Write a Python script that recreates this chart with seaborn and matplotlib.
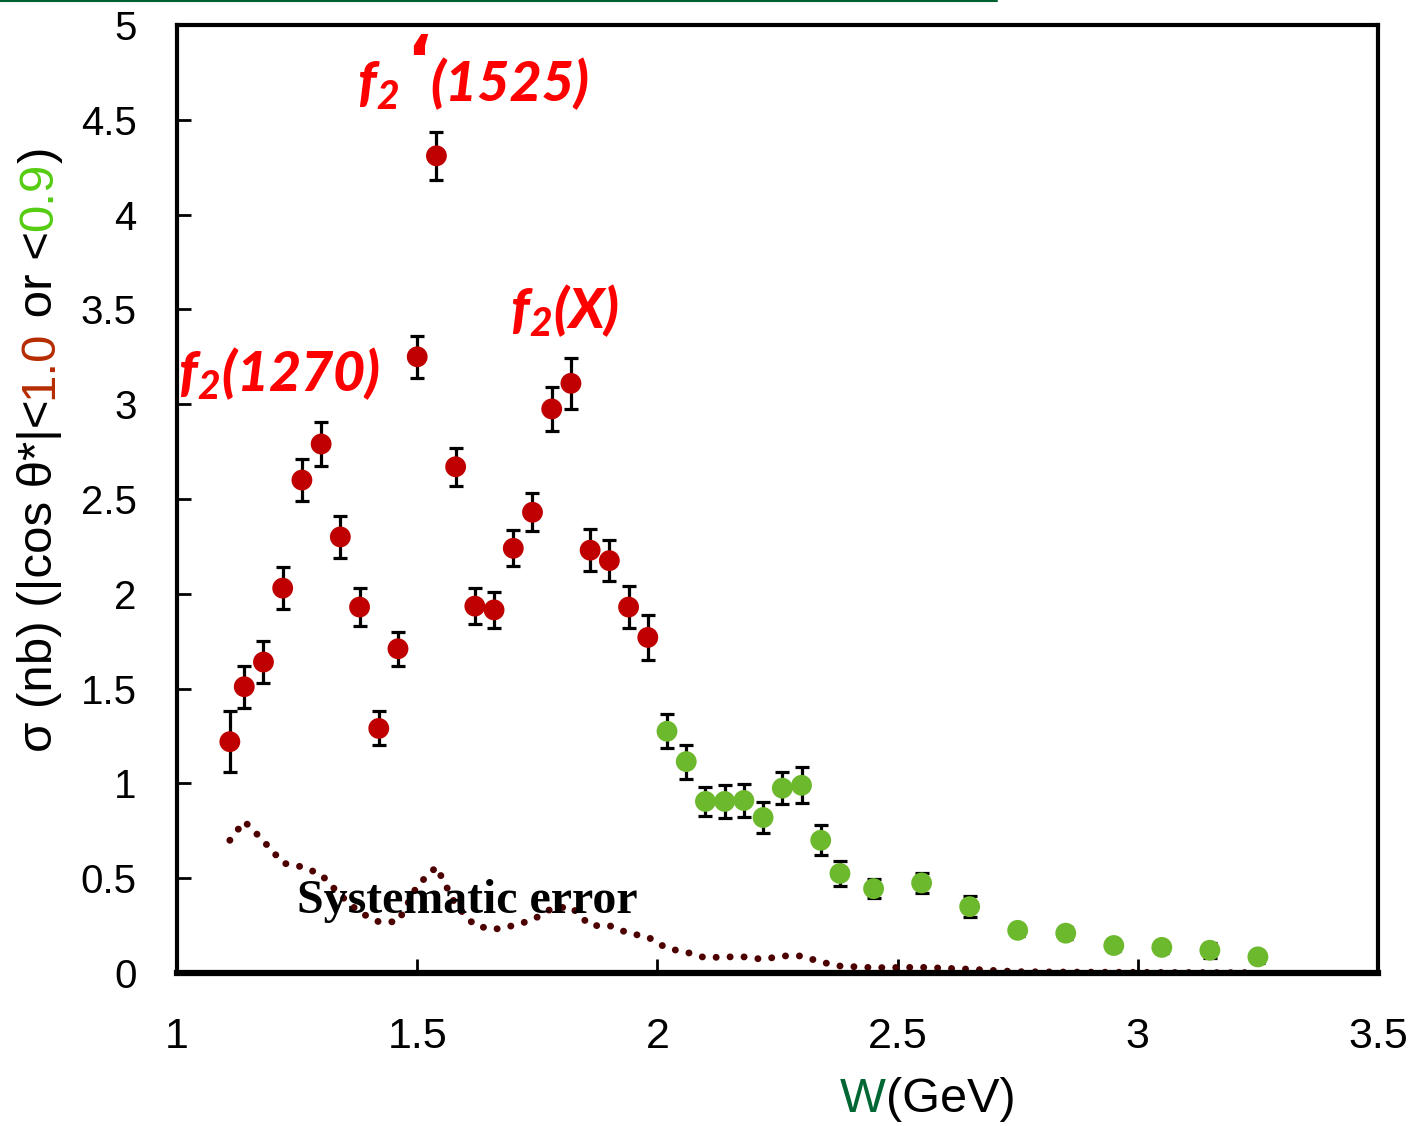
import numpy as np
import pandas as pd
import matplotlib
matplotlib.use("Agg")
import matplotlib.pyplot as plt
import seaborn as sns
from matplotlib.lines import Line2D

# ---------------- data ----------------
w_red = [1.11, 1.14, 1.18, 1.22, 1.26, 1.30, 1.34, 1.38, 1.42, 1.46, 1.50, 1.54,
         1.58, 1.62, 1.66, 1.70, 1.74, 1.78, 1.82, 1.86, 1.90, 1.94, 1.98]
sigma_red = [1.22, 1.51, 1.64, 2.03, 2.60, 2.79, 2.30, 1.93, 1.29, 1.71, 3.25, 4.31,
             2.67, 1.935, 1.915, 2.24, 2.43, 2.975, 3.11, 2.23, 2.175, 1.93, 1.77]
err_red = [0.16, 0.11, 0.11, 0.11, 0.11, 0.115, 0.11, 0.10, 0.09, 0.09, 0.11, 0.125,
           0.10, 0.095, 0.095, 0.095, 0.10, 0.115, 0.135, 0.11, 0.11, 0.11, 0.12]

w_green = [2.02, 2.06, 2.10, 2.14, 2.18, 2.22, 2.26, 2.30, 2.34, 2.38, 2.45, 2.55,
           2.65, 2.75, 2.85, 2.95, 3.05, 3.15, 3.25]
sigma_green = [1.275, 1.115, 0.905, 0.905, 0.91, 0.82, 0.975, 0.99, 0.70, 0.525, 0.445, 0.475,
               0.35, 0.225, 0.21, 0.145, 0.135, 0.12, 0.085]
err_green = [0.09, 0.09, 0.075, 0.085, 0.085, 0.08, 0.085, 0.095, 0.08, 0.068, 0.05, 0.055,
             0.055, 0.03, 0.03, 0.03, 0.03, 0.04, 0.03]

sys_w = [1.11, 1.14, 1.16, 1.20, 1.22, 1.26, 1.30, 1.34, 1.38, 1.42, 1.46, 1.50, 1.54,
         1.58, 1.62, 1.66, 1.70, 1.74, 1.78, 1.82, 1.86, 1.90, 1.94, 1.98, 2.02, 2.06,
         2.10, 2.14, 2.18, 2.22, 2.26, 2.30, 2.34, 2.38, 2.45, 2.55, 2.65, 2.75, 2.85,
         2.95, 3.05, 3.15, 3.25]
sys_val = [0.70, 0.80, 0.75, 0.64, 0.58, 0.56, 0.52, 0.41, 0.32, 0.27, 0.27, 0.46, 0.56,
           0.36, 0.25, 0.23, 0.25, 0.28, 0.34, 0.35, 0.25, 0.25, 0.21, 0.19, 0.13, 0.11,
           0.08, 0.085, 0.085, 0.072, 0.09, 0.09, 0.058, 0.037, 0.028, 0.03, 0.02, 0.007,
           0.005, 0.004, 0.003, 0.002, 0.002]

x_ticks = [1, 1.5, 2, 2.5, 3, 3.5]
x_tick_labels = ["1", "1.5", "2", "2.5", "3", "3.5"]
y_ticks = [0, 0.5, 1, 1.5, 2, 2.5, 3, 3.5, 4, 4.5, 5]
y_tick_labels = ["0", "0.5", "1", "1.5", "2", "2.5", "3", "3.5", "4", "4.5", "5"]

df = pd.DataFrame({
    "W": w_red + w_green,
    "sigma": sigma_red + sigma_green,
    "err": err_red + err_green,
    "set": ["red"] * len(w_red) + ["green"] * len(w_green),
})
sys_df = pd.DataFrame({"W": sys_w, "val": sys_val})

# ---------------- style ----------------
sns.set_theme(style="white")
plt.rcParams['font.family'] = ['Liberation Sans', 'DejaVu Sans']
plt.rcParams['mathtext.fontset'] = 'custom'
plt.rcParams['mathtext.rm'] = 'Lato:black:italic'
plt.rcParams['mathtext.it'] = 'Lato:black:italic'
plt.rcParams['mathtext.bf'] = 'Lato:black:italic'

W_PX, H_PX = 1415, 1126
fig = plt.figure(figsize=(W_PX / 100, H_PX / 100), dpi=100)
ax = fig.add_axes([177 / W_PX, 1 - 973 / H_PX, (1378 - 177) / W_PX, (973 - 25) / H_PX])

# systematic error dotted curve
sns.lineplot(data=sys_df, x="W", y="val", ax=ax, color="#4d0000", lw=5.0,
             linestyle=(0, (0.01, 2.0)), dash_capstyle="round", errorbar=None,
             sort=True, zorder=1)

# error bars
ax.errorbar(df["W"], df["sigma"], yerr=df["err"], fmt="none", ecolor="black",
            elinewidth=2.3, capsize=5, capthick=2.3, zorder=2)

# markers
sns.scatterplot(data=df, x="W", y="sigma", hue="set",
                palette={"red": "#c00000", "green": "#6cb92e"},
                s=225, edgecolor="none", linewidth=0, legend=False, ax=ax, zorder=3)

ax.set_xlim(1, 3.5)
ax.set_ylim(0, 5)
ax.set_xticks(x_ticks)
ax.set_xticklabels(x_tick_labels)
ax.set_yticks(y_ticks)
ax.set_yticklabels(y_tick_labels)
ax.set_xlabel("")
ax.set_ylabel("")
ax.tick_params(axis="x", direction="in", length=10, width=2, color="black",
               labelsize=31, pad=32, bottom=True, top=False, labelcolor="black")
ax.tick_params(axis="y", direction="in", length=10, width=2, color="black",
               labelsize=29, pad=29, left=True, right=False, labelcolor="black")
for side, lw in {"top": 3, "right": 3, "left": 3, "bottom": 4.5}.items():
    ax.spines[side].set_visible(True)
    ax.spines[side].set_color("black")
    ax.spines[side].set_linewidth(lw)
ax.grid(False)

# annotations
ann_font = dict(family=['Lato', 'DejaVu Sans'], weight="black",
                style="italic", color="#ff0000", fontsize=40)
ax.text(1.003, 3.07, r"f$_2$(1270)", ha="left", va="baseline", **ann_font)
ax.text(1.375, 4.60, r"f$_2$", ha="left", va="baseline", **ann_font)
ax.text(1.476, 4.97, "\u2018", ha="left", va="top", clip_on=False,
        family=['DejaVu Sans'], weight="bold", color="#ff0000", fontsize=48)
ax.text(1.528, 4.60, "(1525)", ha="left", va="baseline", **ann_font)
ax.text(1.693, 3.40, r"f$_2$(X)", ha="left", va="baseline", **ann_font)

ax.text(1.25, 0.316, "Systematic error", ha="left", va="baseline",
        family=['Liberation Serif', 'DejaVu Serif'], weight="bold", fontsize=34.5,
        color="black", zorder=4)

# green line at top of figure
fig.add_artist(Line2D([0, 997 / W_PX], [1 - 1.2 / H_PX, 1 - 1.2 / H_PX],
                      color="#006030", lw=1.5, transform=fig.transFigure))

# ---- multi-coloured rotated y label ----
fig.canvas.draw()
renderer = fig.canvas.get_renderer()
pieces = [("\u03c3 (nb) (|cos \u03b8*|<", "black"), ("1.0", "#b52c00"),
          (" or <", "black"), ("0.9", "#55cc11"), (")", "black")]
y_px = 752.0  # bottom of label in pixels from top
x_px = 40.0
for txt, col in pieces:
    t = fig.text(x_px / W_PX, 1 - y_px / H_PX, txt, rotation=90, ha="center",
                 va="bottom", fontsize=35.5, color=col,
                 family=['Liberation Sans', 'DejaVu Sans'])
    bb = t.get_window_extent(renderer)
    y_px -= bb.height

# ---- x label: "W" green + "(GeV)" black ----
tw = fig.text(840 / W_PX, 1 - 1100 / H_PX, "W", ha="left", va="center",
              fontsize=35, color="#006633", family=['Liberation Sans', 'DejaVu Sans'])
bbw = tw.get_window_extent(renderer)
fig.text((840 + bbw.width) / W_PX, 1 - 1100 / H_PX, "(GeV)", ha="left", va="center",
         fontsize=35, color="black", family=['Liberation Sans', 'DejaVu Sans'])

fig.savefig("out.png", dpi=100)
